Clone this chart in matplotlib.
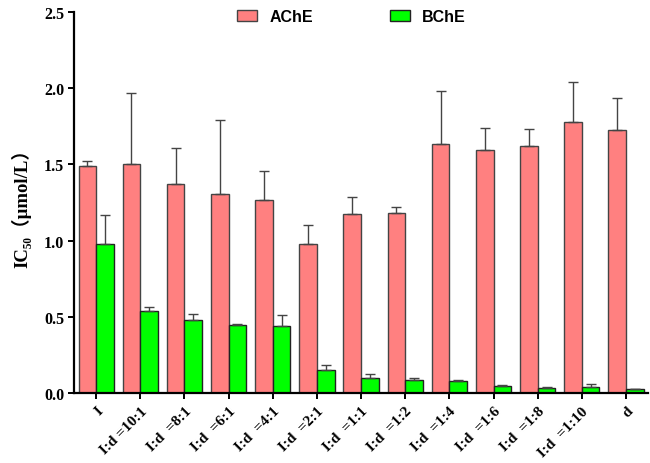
import matplotlib
matplotlib.use("Agg")
import matplotlib.pyplot as plt
import numpy as np

groups = ["I", "I:d =10:1", "I:d  =8:1", "I:d  =6:1", "I:d  =4:1", "I:d  =2:1",
          "I:d  =1:1", "I:d  =1:2", "I:d  =1:4", "I:d  =1:6", "I:d  =1:8",
          "I:d  =1:10", "d"]

ache = [1.49, 1.50, 1.37, 1.305, 1.265, 0.976, 1.177, 1.181, 1.634, 1.597, 1.623, 1.778, 1.728]
ache_err = [0.035, 0.47, 0.235, 0.485, 0.19, 0.128, 0.111, 0.042, 0.346, 0.14, 0.111, 0.262, 0.21]
bche = [0.98, 0.54, 0.48, 0.448, 0.437, 0.151, 0.096, 0.085, 0.081, 0.046, 0.033, 0.039, 0.024]
bche_err = [0.185, 0.027, 0.04, 0.007, 0.075, 0.033, 0.029, 0.013, 0.007, 0.006, 0.006, 0.02, 0.0]

red = "#FF8080"
green = "#00FF00"
edge = "#444444"

fig = plt.figure(figsize=(6.5, 4.64), dpi=100)
ax = fig.add_axes([0.114, 0.151, 0.883, 0.821])

x = np.arange(len(groups))
w = 0.4
ax.bar(x - w / 2, ache, w, color=red, edgecolor=edge, linewidth=1.0, label="AChE",
       yerr=[np.zeros(len(ache)), ache_err], error_kw=dict(ecolor=edge, elinewidth=1.0, capsize=3.5, capthick=1.0))
ax.bar(x + w / 2, bche, w, color=green, edgecolor="#222222", linewidth=1.0, label="BChE",
       yerr=[np.zeros(len(bche)), bche_err], error_kw=dict(ecolor=edge, elinewidth=1.0, capsize=3.5, capthick=1.0))

ax.set_xlim(-0.5, 12.5)
ax.set_ylim(0, 2.5)
ax.set_yticks([0.0, 0.5, 1.0, 1.5, 2.0, 2.5])
ax.set_yticklabels(["0.0", "0.5", "1.0", "1.5", "2.0", "2.5"],
                   fontfamily="Liberation Serif", fontweight="bold", fontsize=11.5)
ax.set_xticks(x)
ax.set_xticklabels(groups, rotation=45, ha="right", rotation_mode="anchor",
                   fontfamily="Liberation Serif", fontweight="bold", fontsize=11)

for s in ["top", "right"]:
    ax.spines[s].set_visible(False)
for s in ["left", "bottom"]:
    ax.spines[s].set_linewidth(1.6)
ax.tick_params(axis="both", direction="out", length=4, width=1.4, pad=3)
ax.tick_params(axis="x", pad=4)

ax.set_ylabel("IC₅₀（μmol/L）", family=["Liberation Serif", "DejaVu Serif", "Noto Sans CJK SC"],
              fontweight="bold", fontsize=13.5, labelpad=9)

leg = ax.legend(loc="upper center", bbox_to_anchor=(0.483, 1.045), ncol=2, frameon=False,
                handlelength=1.3, handleheight=0.7, columnspacing=4.8, handletextpad=0.75,
                prop={"family": "Liberation Sans", "weight": "bold", "size": 11.5})

fig.savefig("out.png", dpi=100)
